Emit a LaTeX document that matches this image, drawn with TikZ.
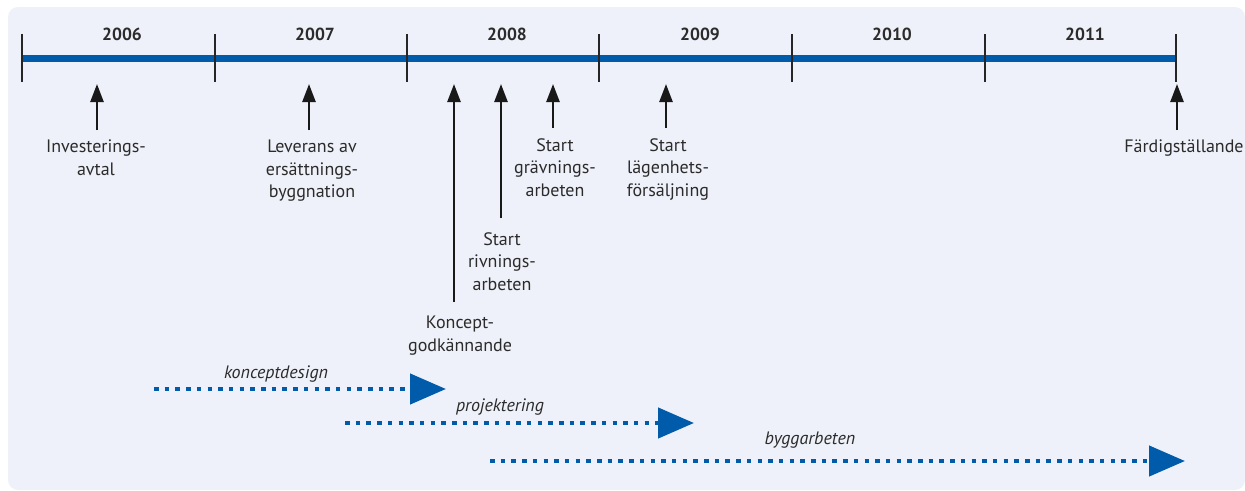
\documentclass[tikz,border=0pt]{standalone}
\usepackage{fontspec}
\setmainfont{PT Sans}
\usetikzlibrary{arrows.meta}
\definecolor{bg}{HTML}{EEF1F9}
\definecolor{tlblue}{HTML}{005BAA}
\definecolor{txt}{HTML}{2B2B2B}
\tikzset{
  tl/.style={line width=7pt, tlblue},
  tick/.style={line width=2pt, black!85},
  yearlbl/.style={font=\fontsize{17.5}{20}\selectfont\bfseries, text=txt},
  lbl/.style={font=\fontsize{18}{22.5}\selectfont, text=txt, align=center, anchor=north, inner sep=0pt},
  evarrow/.style={line width=2.5pt, black!90, -{Triangle[length=18pt,width=13pt]}},
  phase/.style={line width=4.5pt, tlblue, dash pattern=on 4.5pt off 6.2pt,
     -{Triangle[length=36pt,width=30pt]}},
  phaselbl/.style={font=\fontsize{18}{20}\selectfont\itshape, text=txt}
}
\begin{document}
\begin{tikzpicture}[x=1pt,y=-1pt]
\useasboundingbox (0,0) rectangle (1245,490);
\fill[bg, rounded corners=10pt] (8,7) rectangle (1245,490);
% timeline
\foreach \i/\x in {0/22,1/215,2/407,3/599,4/792,5/985,6/1176}{
  \coordinate (t\i) at (\x,58);
  \coordinate (ta\i) at (\x,34);
  \coordinate (tb\i) at (\x,82);
}
\draw[tl] (t0) -- (t6);
\foreach \i in {0,...,6}{ \draw[tick] (ta\i) -- (tb\i); }
\node[yearlbl] (y2006) at (122,34) {2006};
\node[yearlbl] (y2007) at (315,34) {2007};
\node[yearlbl] (y2008) at (507,34) {2008};
\node[yearlbl] (y2009) at (700,34) {2009};
\node[yearlbl] (y2010) at (892,34) {2010};
\node[yearlbl] (y2011) at (1085,34) {2011};
% events
\coordinate (e1) at (97,84);
\coordinate (e2) at (309,84);
\coordinate (e3) at (454,84);
\coordinate (e4) at (501,84);
\coordinate (e5) at (553,84);
\coordinate (e6) at (666,84);
\coordinate (e7) at (1177,84);
\node[lbl] (l1) at (96,140) {Investerings-\\avtal};
\node[lbl] (l2) at (312,140) {Leverans av\\ersättnings-\\byggnation};
\node[lbl] (l3) at (460,316) {Koncept-\\godkännande};
\node[lbl] (l4) at (502,232) {Start\\rivnings-\\arbeten};
\node[lbl] (l5) at (555,138) {Start\\grävnings-\\arbeten};
\node[lbl] (l6) at (668,138) {Start\\lägenhets-\\försäljning};
\node[lbl] (l7) at (1184,140) {Färdigställande};
\draw[evarrow] ([yshift=10pt]l1.north -| e1) -- (e1);
\draw[evarrow] ([yshift=10pt]l2.north -| e2) -- (e2);
\draw[evarrow] ([yshift=14pt]l3.north -| e3) -- (e3);
\draw[evarrow] ([yshift=14pt]l4.north -| e4) -- (e4);
\draw[evarrow] ([yshift=10pt]l5.north -| e5) -- (e5);
\draw[evarrow] ([yshift=10pt]l6.north -| e6) -- (e6);
\draw[evarrow] ([yshift=10pt]l7.north -| e7) -- (e7);
% phases
\coordinate (p1s) at (154,389); \coordinate (p1e) at (446,389);
\coordinate (p2s) at (345,423); \coordinate (p2e) at (694,423);
\coordinate (p3s) at (490,461); \coordinate (p3e) at (1185,461);
\draw[phase] (p1s) -- (p1e);
\draw[phase] (p2s) -- (p2e);
\draw[phase] (p3s) -- (p3e);
\node[phaselbl] (n1) at (276,374) {konceptdesign};
\node[phaselbl] (n2) at (500,407) {projektering};
\node[phaselbl] (n3) at (810,440) {byggarbeten};
\end{tikzpicture}
\end{document}
